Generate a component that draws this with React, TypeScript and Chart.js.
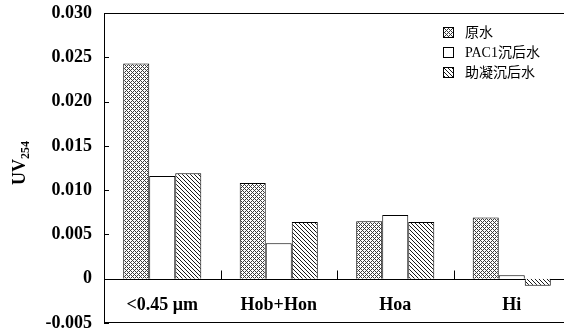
import React, { useEffect, useRef } from "react";
import { Chart, registerables } from "chart.js";

Chart.register(...registerables);

const categories = ["<0.45 μm", "Hob+Hon", "Hoa", "Hi"];
const seriesNames = ["原水", "PAC1沉后水", "助凝沉后水"];
const rawWater = [0.0243, 0.0108, 0.0065, 0.0069];
const pacWater = [0.0116, 0.004, 0.0072, 0.0004];
const aidWater = [0.0119, 0.0064, 0.0064, -0.0008];
const yTickValues = [-0.005, 0, 0.005, 0.01, 0.015, 0.02, 0.025, 0.03];
const yTitleMain = "UV";
const yTitleSub = "254";

const SERIF = "'Liberation Serif', 'Times New Roman', serif";
const LEGEND_FONT = "'Liberation Serif', 'Noto Sans CJK SC', serif";

function makeCrossPattern(ctx: CanvasRenderingContext2D) {
  const c = document.createElement("canvas");
  c.width = 4;
  c.height = 4;
  const g = c.getContext("2d")!;
  g.fillStyle = "#ffffff";
  g.fillRect(0, 0, 4, 4);
  g.fillStyle = "#3a3a3a";
  for (let i = 0; i < 4; i++) {
    g.fillRect(i, i, 1, 1);
    g.fillRect(i, (4 - i) % 4, 1, 1);
  }
  return ctx.createPattern(c, "repeat")!;
}

function makeHatchPattern(ctx: CanvasRenderingContext2D) {
  const n = 4;
  const c = document.createElement("canvas");
  c.width = n;
  c.height = n;
  const g = c.getContext("2d")!;
  g.fillStyle = "#ffffff";
  g.fillRect(0, 0, n, n);
  g.fillStyle = "#1a1a1a";
  for (let i = 0; i < n; i++) {
    g.fillRect(i, i, 1, 1);
  }
  return ctx.createPattern(c, "repeat")!;
}

const framePlugin = {
  id: "frameDecor",
  beforeDatasetsDraw(chart: any) {
    const { ctx, chartArea } = chart;
    const y = chart.scales.y;
    const y0 = Math.round(y.getPixelForValue(0)) + 0.5;
    ctx.save();
    ctx.strokeStyle = "#000";
    ctx.lineWidth = 1;
    ctx.beginPath();
    ctx.moveTo(chartArea.left, y0);
    ctx.lineTo(chartArea.right, y0);
    ctx.stroke();
    ctx.restore();
  },
  afterDraw(chart: any) {
    const { ctx, chartArea } = chart;
    const x = chart.scales.x;
    const y = chart.scales.y;
    const left = chartArea.left;
    const right = chartArea.right;
    ctx.save();
    ctx.strokeStyle = "#000";
    ctx.lineWidth = 1;
    const top = Math.round(chartArea.top) + 0.5;
    const bottom = Math.round(chartArea.bottom) - 0.5;
    ctx.beginPath();
    ctx.moveTo(left, top);
    ctx.lineTo(right, top);
    ctx.moveTo(left, bottom);
    ctx.lineTo(right, bottom);
    ctx.stroke();
    ctx.beginPath();
    yTickValues.forEach((v) => {
      const py = Math.round(y.getPixelForValue(v)) + 0.5;
      ctx.moveTo(left, py);
      ctx.lineTo(left + 5, py);
    });
    ctx.stroke();
    const y0 = Math.round(y.getPixelForValue(0)) + 0.5;
    ctx.beginPath();
    for (let i = 0; i < categories.length - 1; i++) {
      const px = Math.round((x.getPixelForValue(i) + x.getPixelForValue(i + 1)) / 2) + 0.5;
      ctx.moveTo(px, y0);
      ctx.lineTo(px, y0 - 9);
    }
    ctx.stroke();
    ctx.fillStyle = "#000";
    ctx.font = `bold 18px ${SERIF}`;
    ctx.textAlign = "center";
    ctx.textBaseline = "alphabetic";
    categories.forEach((c, i) => {
      ctx.fillText(c, x.getPixelForValue(i), 310);
    });
    ctx.save();
    ctx.translate(25, 163);
    ctx.rotate(-Math.PI / 2);
    ctx.font = `bold 18px ${SERIF}`;
    const wMain = ctx.measureText(yTitleMain).width;
    ctx.font = `bold 12px ${SERIF}`;
    const wSub = ctx.measureText(yTitleSub).width;
    const start = -(wMain + wSub) / 2;
    ctx.textAlign = "left";
    ctx.font = `bold 18px ${SERIF}`;
    ctx.fillText(yTitleMain, start, 0);
    ctx.font = `bold 12px ${SERIF}`;
    ctx.fillText(yTitleSub, start + wMain, 4);
    ctx.restore();
    const ds = chart.data.datasets;
    ctx.font = `14px ${LEGEND_FONT}`;
    ctx.textAlign = "left";
    ctx.textBaseline = "middle";
    ds.forEach((d: any, i: number) => {
      const cy = 33 + i * 20;
      ctx.fillStyle = d.backgroundColor;
      ctx.fillRect(443, cy - 6, 11, 11);
      ctx.strokeStyle = "#000";
      ctx.strokeRect(443.5, cy - 5.5, 10, 10);
      ctx.fillStyle = "#000";
      ctx.fillText(d.label, 465, cy);
    });
    ctx.restore();
  },
};

export default function App() {
  const ref = useRef<HTMLCanvasElement | null>(null);
  useEffect(() => {
    const canvas = ref.current!;
    const ctx = canvas.getContext("2d")!;
    const cross = makeCrossPattern(ctx);
    const hatch = makeHatchPattern(ctx);
    const chart = new Chart(canvas, {
      type: "bar",
      data: {
        labels: categories,
        datasets: [
          { label: seriesNames[0], data: rawWater, backgroundColor: cross as any, borderColor: "#000", borderWidth: 1 },
          { label: seriesNames[1], data: pacWater, backgroundColor: "#ffffff", borderColor: "#000", borderWidth: 1 },
          { label: seriesNames[2], data: aidWater, backgroundColor: hatch as any, borderColor: "#000", borderWidth: 1 },
        ],
      },
      options: {
        responsive: false,
        animation: false,
        devicePixelRatio: 1,
        layout: { padding: { top: 13, bottom: 7, left: 0, right: 30 } },
        datasets: { bar: { categoryPercentage: 0.67, barPercentage: 1 } },
        plugins: { legend: { display: false }, tooltip: { enabled: false } },
        scales: {
          x: { display: false },
          y: {
            min: -0.005,
            max: 0.03,
            afterBuildTicks: (scale: any) => {
              scale.ticks = yTickValues.map((v) => ({ value: v }));
            },
            afterFit: (scale: any) => {
              scale.width = 104;
              scale.paddingTop = 0;
              scale.paddingBottom = 0;
            },
            grid: { display: false, drawTicks: false, tickLength: 0 },
            border: { display: true, color: "#000", width: 1 },
            ticks: {
              color: "#000",
              padding: 12,
              font: { family: SERIF, size: 18, weight: "bold" },
              callback: (v: any) => (Number(v) === 0 ? "0" : Number(v).toFixed(3)),
            },
          },
        },
      },
      plugins: [framePlugin],
    });
    return () => chart.destroy();
  }, []);
  return (
    <div style={{ position: "fixed", left: 0, top: 0, width: 564, height: 330, overflow: "hidden", background: "#fff" }}>
      <canvas ref={ref} width={600} height={330} style={{ display: "block" }} />
    </div>
  );
}
